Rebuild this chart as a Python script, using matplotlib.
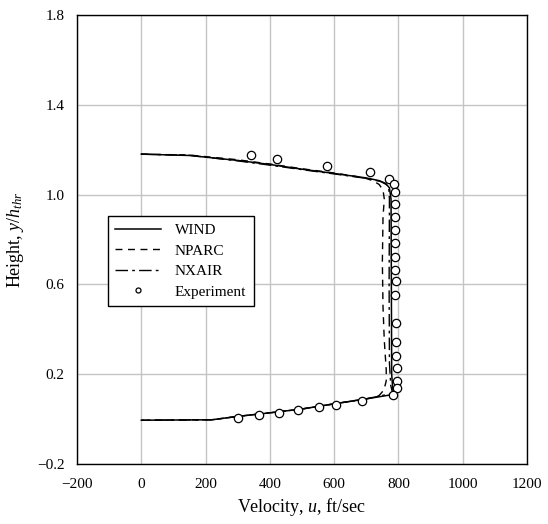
import matplotlib
matplotlib.use("Agg")
import matplotlib.pyplot as plt

plt.rcParams["font.family"] = ["Liberation Serif", "DejaVu Serif"]
plt.rcParams["mathtext.fontset"] = "custom"
plt.rcParams["mathtext.rm"] = "Liberation Serif"
plt.rcParams["mathtext.it"] = "Liberation Serif:italic"

# velocity profiles (u in ft/sec, height y/h_thr)
wind_u = [0, 150, 300, 400, 500, 600, 700, 740, 760, 772, 777, 778, 779, 782, 785,
          700, 600, 500, 400, 300, 220, 0]
wind_y = [1.180, 1.174, 1.152, 1.134, 1.113, 1.094, 1.074, 1.062, 1.050, 1.030, 0.980,
          0.600, 0.200, 0.140, 0.110, 0.090, 0.068, 0.045, 0.028, 0.012, -0.003, -0.005]

nparc_u = [0, 150, 300, 400, 500, 600, 690, 720, 740, 752, 756, 752, 750, 752, 756,
           762, 762, 755, 740, 710, 600, 500, 400, 300, 220, 0]
nparc_y = [1.180, 1.176, 1.155, 1.136, 1.115, 1.096, 1.076, 1.062, 1.045, 1.020, 0.980,
           0.900, 0.700, 0.500, 0.350, 0.220, 0.170, 0.130, 0.105, 0.093, 0.068, 0.045,
           0.028, 0.012, -0.003, -0.005]

nxair_u = [0, 150, 300, 400, 500, 600, 700, 745, 762, 770, 772, 771, 772, 776, 782,
           700, 600, 500, 400, 300, 220, 0]
nxair_y = [1.180, 1.175, 1.150, 1.131, 1.111, 1.092, 1.072, 1.058, 1.045, 1.025, 0.980,
           0.600, 0.250, 0.150, 0.115, 0.090, 0.068, 0.045, 0.028, 0.012, -0.003, -0.005]

exp_u = [340, 423, 579, 710, 770, 786, 788, 790, 788, 790, 790, 788, 790, 791, 788,
         791, 791, 792, 797, 797, 795, 784,
         688, 605, 552, 488, 428, 365, 300]
exp_y = [1.176, 1.157, 1.129, 1.099, 1.069, 1.046, 1.013, 0.958, 0.902, 0.840, 0.783,
         0.723, 0.666, 0.613, 0.553, 0.427, 0.343, 0.281, 0.226, 0.170, 0.139, 0.109,
         0.079, 0.064, 0.052, 0.039, 0.029, 0.017, 0.006]

x_ticks = [-200, 0, 200, 400, 600, 800, 1000, 1200]
y_ticks = [-0.2, 0.2, 0.6, 1.0, 1.4, 1.8]

fig = plt.figure(figsize=(5.48, 5.24), dpi=100)
ax = fig.add_axes([0.1405, 0.1145, 0.8212, 0.857])

ax.plot(wind_u, wind_y, color="black", lw=1.1, ls="-", label="WIND")
ax.plot(nparc_u, nparc_y, color="black", lw=1.0, ls=(0, (5, 4)), label="NPARC")
ax.plot(nxair_u, nxair_y, color="black", lw=1.0, ls=(0, (9, 3, 2, 3)), label="NXAIR")
ax.plot(exp_u, exp_y, ls="none", marker="o", ms=6.0, mfc="white", mec="black",
        mew=0.9, label="Experiment")

ax.set_xlim(-200, 1200)
ax.set_ylim(-0.2, 1.8)
ax.set_xticks(x_ticks)
ax.set_xticklabels([str(v).replace("-", "\u2212") for v in x_ticks])
ax.set_yticks(y_ticks)
ax.set_yticklabels([f"{v:.1f}".replace("-", "\u2212") for v in y_ticks])
ax.tick_params(length=0, labelsize=11, pad=10)
ax.tick_params(axis="y", pad=9)
ax.grid(True, color="#c4c4c4", lw=1.0)
ax.set_axisbelow(True)
for s in ax.spines.values():
    s.set_color("black")
    s.set_linewidth(1.0)

ax.set_xlabel("Velocity, $u$, ft/sec", fontsize=13, labelpad=4)
ax.set_ylabel("Height, $y/h_{thr}$", fontsize=13, labelpad=8)

leg = ax.legend(loc="upper left", bbox_to_anchor=(0.068, 0.553), fontsize=11,
                frameon=True, fancybox=False, edgecolor="black", framealpha=1,
                handlelength=3.0, handletextpad=0.9, borderpad=0.5,
                labelspacing=0.45, markerscale=0.6, borderaxespad=0)
leg.get_frame().set_linewidth(1.0)

fig.savefig("out.png", dpi=100)
